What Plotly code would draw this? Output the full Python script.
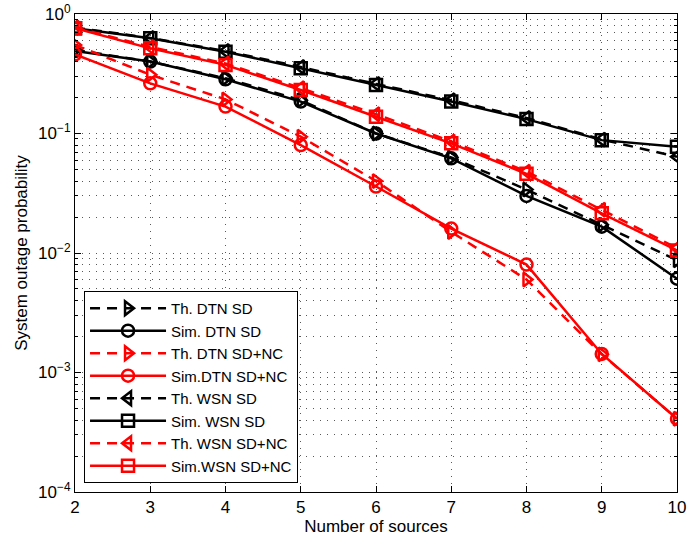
import plotly.graph_objects as go

sources = [2, 3, 4, 5, 6, 7, 8, 9, 10]

th_dtn_sd = [0.50, 0.40, 0.29, 0.19, 0.10, 0.063, 0.034, 0.0172, 0.0087]
sim_dtn_sd = [0.49, 0.40, 0.284, 0.185, 0.100, 0.062, 0.0300, 0.0166, 0.0061]
th_dtn_sdnc = [0.55, 0.31, 0.193, 0.094, 0.040, 0.0150, 0.0060, 0.00142, 0.00041]
sim_dtn_sdnc = [0.46, 0.263, 0.168, 0.080, 0.0360, 0.0160, 0.0080, 0.00143, 0.00041]
th_wsn_sd = [0.77, 0.63, 0.49, 0.36, 0.26, 0.19, 0.135, 0.089, 0.064]
sim_wsn_sd = [0.76, 0.626, 0.484, 0.351, 0.255, 0.185, 0.132, 0.088, 0.0775]
th_wsn_sdnc = [0.77, 0.53, 0.385, 0.24, 0.145, 0.086, 0.048, 0.023, 0.0110]
sim_wsn_sdnc = [0.76, 0.516, 0.375, 0.231, 0.138, 0.0828, 0.0460, 0.0215, 0.0105]

ytick_vals = [1e-4, 1e-3, 1e-2, 1e-1, 1]
ytick_text = ["10<sup>\u22124</sup>", "10<sup>\u22123</sup>", "10<sup>\u22122</sup>",
              "10<sup>\u22121</sup>", "10<sup>0</sup>"]
minor_vals = [m * 10 ** e for e in range(-4, 0) for m in range(2, 10)]

DASH = "10px,7px"
series = [
    ("Th. DTN SD", th_dtn_sd, "black", DASH, "triangle-right-open"),
    ("Sim. DTN SD", sim_dtn_sd, "black", "solid", "circle-open"),
    ("Th. DTN SD+NC", th_dtn_sdnc, "red", DASH, "triangle-right-open"),
    ("Sim.DTN SD+NC", sim_dtn_sdnc, "red", "solid", "circle-open"),
    ("Th. WSN SD", th_wsn_sd, "black", DASH, "triangle-left-open"),
    ("Sim. WSN SD", sim_wsn_sd, "black", "solid", "square-open"),
    ("Th. WSN SD+NC", th_wsn_sdnc, "red", DASH, "triangle-left-open"),
    ("Sim.WSN SD+NC", sim_wsn_sdnc, "red", "solid", "square-open"),
]

fig = go.Figure()
for name, vals, col, dash, sym in series:
    fig.add_trace(go.Scatter(
        x=sources, y=vals, name=name, mode="lines+markers",
        line=dict(color=col, width=2.5, dash=dash),
        marker=dict(symbol=sym, size=12, color=col, line=dict(color=col, width=2.5)),
    ))

font = "Liberation Sans, Arial, Helvetica, sans-serif"
GRID = "rgba(0,0,0,0.65)"
GDASH = "1px,6px"
fig.update_layout(
    width=688, height=537,
    margin=dict(l=75, r=11, t=14, b=45, autoexpand=False),
    paper_bgcolor="white", plot_bgcolor="white",
    font=dict(family=font, size=17, color="black"),
    showlegend=True,
    legend=dict(
        x=0.015, y=0.019, xanchor="left", yanchor="bottom",
        bgcolor="white", bordercolor="black", borderwidth=1,
        font=dict(family=font, size=15, color="black"),
        tracegroupgap=0, itemwidth=76,
    ),
    xaxis=dict(
        range=[2, 10], dtick=1, tick0=2, automargin=False,
        showline=True, linecolor="black", linewidth=1, mirror="allticks",
        ticks="inside", ticklen=6, tickcolor="black",
        showgrid=True, gridcolor=GRID, griddash=GDASH, gridwidth=1,
        zeroline=False, ticklabeloverflow="allow",
        title=dict(text="Number of sources", font=dict(size=17), standoff=0),
        tickfont=dict(size=17),
    ),
    yaxis=dict(
        type="log", range=[-4, 0], automargin=False,
        tickmode="array", tickvals=ytick_vals, ticktext=ytick_text,
        showline=True, linecolor="black", linewidth=1, mirror="allticks",
        ticks="inside", ticklen=6, tickcolor="black",
        showgrid=True, gridcolor=GRID, griddash=GDASH, gridwidth=1,
        minor=dict(tickmode="array", tickvals=minor_vals, ticks="inside", ticklen=3,
                   tickcolor="black", showgrid=True, gridcolor=GRID,
                   griddash=GDASH, gridwidth=1),
        zeroline=False, ticklabeloverflow="allow",
        title=dict(text="System outage probability", font=dict(size=17), standoff=6),
        tickfont=dict(size=17),
    ),
)

fig.write_html(
    "out.html",
    config={"displayModeBar": False},
    post_script="document.body.style.margin='0px';document.body.style.overflow='hidden';",
)
